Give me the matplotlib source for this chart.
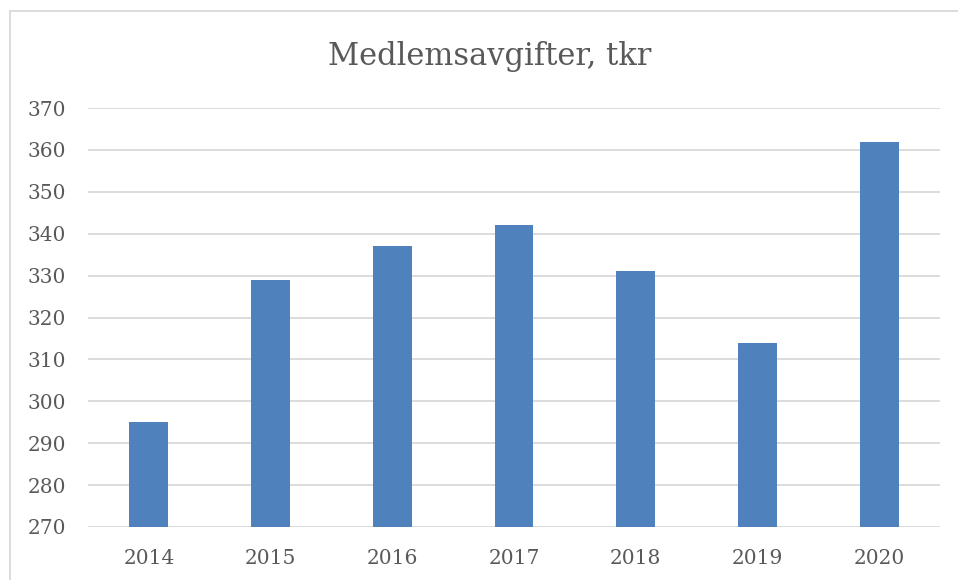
import matplotlib
matplotlib.use("Agg")
import matplotlib.pyplot as plt
from matplotlib.lines import Line2D

years = ["2014", "2015", "2016", "2017", "2018", "2019", "2020"]
values = [295, 329, 337, 342, 331, 314, 362]
yticks = [270, 280, 290, 300, 310, 320, 330, 340, 350, 360, 370]

plt.rcParams['font.family'] = ['DejaVu Serif']
txt = '#595959'

fig = plt.figure(figsize=(9.58, 5.80), dpi=100)
ax = fig.add_axes([88/958, 53/580, (940-88)/958, (527-108)/580])
x = list(range(len(years)))
ax.bar(x, values, width=0.32, color='#4f81bd', zorder=3)
ax.set_xlim(-0.5, len(years)-0.5)
ax.set_ylim(270, 370)
ax.set_yticks(yticks)
ax.set_yticklabels([str(v) for v in yticks], fontsize=14.5, color=txt)
ax.set_xticks(x)
ax.set_xticklabels(years, fontsize=14.5, color=txt)
ax.tick_params(axis='both', length=0)
ax.tick_params(axis='y', pad=16)
ax.tick_params(axis='x', pad=15.5)
ax.grid(axis='y', color='#d9d9d9', linewidth=1.3, zorder=0)
for s in ax.spines.values():
    s.set_visible(False)
fig.text(490/958, 1-57/580, "Medlemsavgifter, tkr", fontsize=22, color=txt,
         ha='center', va='center')

fig.add_artist(Line2D([10/958, 10/958], [0, 1-11/580], color='#d9d9d9', linewidth=1.3))
fig.add_artist(Line2D([10/958, 1], [1-11/580, 1-11/580], color='#d9d9d9', linewidth=1.3))

fig.savefig("out.png", dpi=100)
